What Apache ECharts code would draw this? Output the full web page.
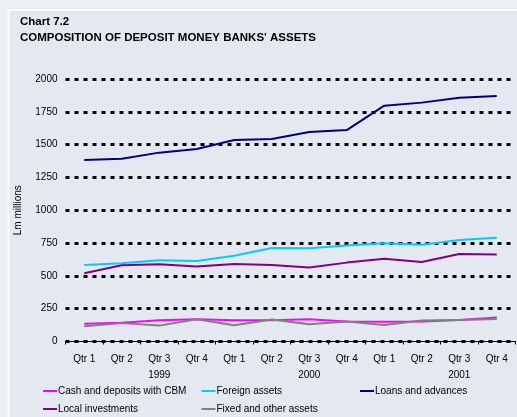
<!DOCTYPE html>
<html>
<head>
<meta charset="utf-8">
<script src="https://cdn.jsdelivr.net/npm/echarts@6/dist/echarts.min.js"></script>
<style>
  html, body { margin: 0; padding: 0; background: #eceff4; }
  #chart { width: 517px; height: 417px; }
</style>
</head>
<body>
<div id="chart"></div>
<script>
// Quarterly balances, Lm millions
const quarters = ['Qtr 1', 'Qtr 2', 'Qtr 3', 'Qtr 4', 'Qtr 1', 'Qtr 2', 'Qtr 3', 'Qtr 4', 'Qtr 1', 'Qtr 2', 'Qtr 3', 'Qtr 4'];
const years = ['', '', '1999', '', '', '', '2000', '', '', '', '2001', ''];

const cashCBM = [135, 142, 162, 170, 162, 162, 170, 153, 150, 152, 163, 183];
const foreignAssets = [583, 596, 619, 614, 654, 712, 710, 732, 748, 737, 773, 790];
const loansAdvances = [1383, 1393, 1439, 1467, 1535, 1543, 1596, 1611, 1797, 1820, 1858, 1870];
const localInvest = [520, 581, 588, 571, 591, 583, 563, 601, 631, 606, 667, 662];
const fixedOther = [117, 140, 121, 170, 124, 167, 132, 153, 125, 160, 163, 172];

const yTicks = { min: 0, max: 2000, step: 250 };

const FONT = '"Liberation Sans", Arial, sans-serif';
const INNER_BG = '#e4e8f0';
const OUTER_BG = '#eceff4';

const chart = echarts.init(document.getElementById('chart'), null, { renderer: 'canvas' });

function line(name, data, color) {
  return {
    name, type: 'line', data,
    symbol: 'none',
    lineStyle: { color, width: 2 },
    itemStyle: { color },
    emphasis: { disabled: true },
    animation: false
  };
}

const legendBase = {
  orient: 'vertical',
  top: 386,
  padding: 0,
  itemGap: 8,
  itemWidth: 14,
  itemHeight: 2,
  icon: 'rect',
  textStyle: { fontFamily: FONT, fontSize: 10, color: '#000', padding: [0, 0, 0, -4] }
};

chart.setOption({
  backgroundColor: INNER_BG,
  textStyle: { fontFamily: FONT },
  graphic: [
    { type: 'rect', shape: { x: 0, y: 0, width: 517, height: 9 }, style: { fill: OUTER_BG }, silent: true },
    { type: 'rect', shape: { x: 0, y: 0, width: 7.5, height: 417 }, style: { fill: OUTER_BG }, silent: true },
    { type: 'polyline', shape: { points: [[8.5, 417], [8.5, 10], [517, 10]] }, style: { stroke: '#ffffff', lineWidth: 2, fill: null }, silent: true }
  ],
  title: {
    text: 'Chart 7.2\nCOMPOSITION OF DEPOSIT MONEY BANKS\' ASSETS',
    left: 20, top: 14, padding: 0,
    textStyle: { fontFamily: FONT, fontSize: 11.5, fontWeight: 'bold', color: '#000', lineHeight: 16 }
  },
  legend: [
    Object.assign({}, legendBase, { left: 43, data: ['Cash and deposits with CBM', 'Local investments'] }),
    Object.assign({}, legendBase, { left: 201.5, data: ['Foreign assets', 'Fixed and other assets'] }),
    Object.assign({}, legendBase, { left: 360, data: ['Loans and advances'] })
  ],
  grid: { left: 65.5, right: 1.5, top: 79, bottom: 75.5, containLabel: false },
  xAxis: [
    {
      type: 'category', data: quarters, boundaryGap: true,
      axisLine: { lineStyle: { color: '#000', width: 1 } },
      axisTick: { show: true, length: 3, interval: 0, lineStyle: { color: '#000' } },
      axisLabel: { interval: 0, margin: 13, fontFamily: FONT, fontSize: 10, color: '#000' },
      splitLine: { show: false }
    },
    {
      type: 'category', data: years, position: 'bottom', boundaryGap: true,
      axisLine: { show: false }, axisTick: { show: false },
      axisLabel: { interval: 0, margin: 29, fontFamily: FONT, fontSize: 10, color: '#000' },
      splitLine: { show: false }
    }
  ],
  yAxis: {
    type: 'value', min: yTicks.min, max: yTicks.max, interval: yTicks.step,
    name: 'Lm millions', nameLocation: 'middle', nameGap: 42, nameRotate: 90,
    nameTextStyle: { fontFamily: FONT, fontSize: 10, color: '#000' },
    axisLine: { show: false }, axisTick: { show: false },
    axisLabel: { margin: 8, fontFamily: FONT, fontSize: 10, color: '#000', formatter: v => String(v) },
    splitLine: { show: true, lineStyle: { color: '#000', width: 3, type: [4, 5] } }
  },
  series: [
    line('Cash and deposits with CBM', cashCBM, '#ff00ff'),
    line('Foreign assets', foreignAssets, '#00ccff'),
    line('Loans and advances', loansAdvances, '#000080'),
    line('Local investments', localInvest, '#800080'),
    line('Fixed and other assets', fixedOther, '#808080')
  ]
});
</script>
</body>
</html>
